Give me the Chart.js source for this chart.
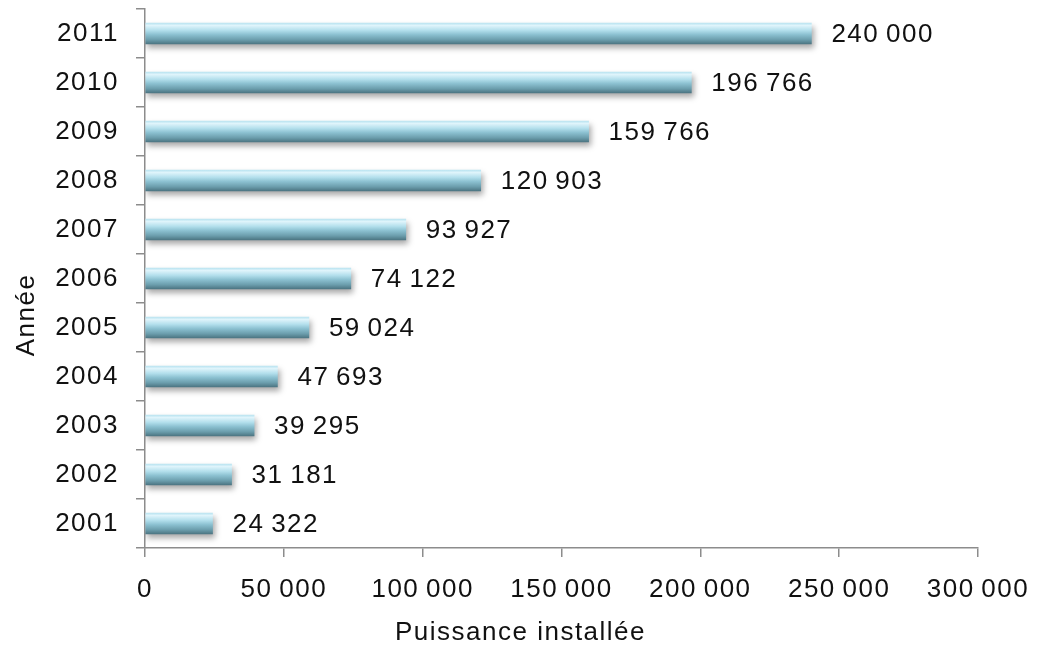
<!DOCTYPE html>
<html>
<head>
<meta charset="utf-8">
<script src="https://cdn.jsdelivr.net/npm/chart.js@4/dist/chart.umd.min.js"></script>
<style>
  html, body { margin: 0; padding: 0; background: #fff; }
  #wrap { width: 1037px; height: 650px; }
</style>
</head>
<body>
<div id="wrap"><canvas id="puissanceChart"></canvas></div>
<script>
// data
const annees = ['2001', '2002', '2003', '2004', '2005', '2006', '2007', '2008', '2009', '2010', '2011'];
const puissance = [24322, 31181, 39295, 47693, 59024, 74122, 93927, 120903, 159766, 196766, 240000];
const xTicks = [0, 50000, 100000, 150000, 200000, 250000, 300000];

const tickFont = { family: 'Liberation Sans', size: 26, weight: 'normal' };
const titleFont = { family: 'Liberation Sans', size: 26 };

function fmt(v) {
    // french style thousands, narrow gap
    return String(v).replace(/\B(?=(\d{3})+(?!\d))/g, '\u2009');
}

// the original text is drawn a bit wide; canvas resizes reset this, so set it often
const wideText = {
    id: 'wideText',
    afterInit(chart) { chart.ctx.letterSpacing = '1.5px'; },
    beforeUpdate(chart) { chart.ctx.letterSpacing = '1.5px'; },
    beforeDraw(chart) { chart.ctx.letterSpacing = '1.5px'; }
};

// soft shadow under the bars
const shadowPlugin = {
    id: 'barShadow',
    beforeDatasetDraw(chart) {
        const ctx = chart.ctx;
        ctx.save();
        ctx.shadowColor = 'rgba(0,0,0,0.35)';
        ctx.shadowBlur = 6;
        ctx.shadowOffsetX = 2;
        ctx.shadowOffsetY = 4;
    },
    afterDatasetDraw(chart) {
        chart.ctx.restore();
    }
};

// value next to the end of each bar, and both axis titles (centred on the page, not the plot)
const valueLabels = {
    id: 'valueLabels',
    afterDatasetsDraw(chart) {
        const ctx = chart.ctx;
        const meta = chart.getDatasetMeta(0);
        ctx.save();
        ctx.font = tickFont.size + 'px "' + tickFont.family + '"';
        ctx.letterSpacing = '1.5px';
        ctx.fillStyle = '#111';
        ctx.textAlign = 'left';
        ctx.textBaseline = 'middle';
        meta.data.forEach((bar, i) => {
            ctx.fillText(fmt(puissance[i]), bar.x + 20, bar.y + 1);
        });

        ctx.font = titleFont.size + 'px "' + titleFont.family + '"';
        ctx.textAlign = 'center';
        ctx.fillText('Puissance installée', chart.width / 2 + 2, 633);

        ctx.translate(27, chart.height / 2 - 10);
        ctx.rotate(-Math.PI / 2);
        ctx.fillText('Année', 0, 0);
        ctx.restore();
    }
};

function barGradient(context) {
    const chart = context.chart;
    const y = chart.scales.y;
    if (!y || context.dataIndex === undefined) return '#8fc6d6';
    const c = y.getPixelForValue(context.dataIndex);
    if (!isFinite(c)) return '#8fc6d6';
    const h = 21;
    const g = chart.ctx.createLinearGradient(0, c - h / 2, 0, c + h / 2);
    g.addColorStop(0, '#b9e3f0');
    g.addColorStop(0.12, '#dff4fb');
    g.addColorStop(0.35, '#b3dfec');
    g.addColorStop(0.55, '#8cc1d1');
    g.addColorStop(0.8, '#6b9dac');
    g.addColorStop(1, '#4c7582');
    return g;
}

const ctx = document.getElementById('puissanceChart').getContext('2d');
new Chart(ctx, {
    type: 'bar',
    data: {
        labels: annees,
        datasets: [{
            data: puissance,
            backgroundColor: barGradient,
            borderWidth: 0,
            barThickness: 21
        }]
    },
    options: {
        indexAxis: 'y',
        responsive: true,
        maintainAspectRatio: false,
        animation: false,
        layout: { padding: { top: 9, right: 0, left: 0, bottom: 0 } },
        plugins: {
            legend: { display: false },
            tooltip: { enabled: false }
        },
        scales: {
            x: {
                min: 0,
                max: 300000,
                afterBuildTicks(axis) {
                    axis.ticks = xTicks.map(v => ({ value: v }));
                },
                afterFit(axis) {
                    axis.height = 102;
                    axis.paddingLeft = 0;
                    axis.paddingRight = 59;
                },
                border: { color: '#8c8c8c', width: 1.5 },
                grid: { drawOnChartArea: false, drawTicks: true, tickLength: 9, color: '#8c8c8c', lineWidth: 1.5 },
                ticks: {
                    color: '#111',
                    font: tickFont,
                    padding: 17,
                    maxRotation: 0,
                    callback: v => fmt(v)
                },
                title: { display: false }
            },
            y: {
                reverse: true,
                afterFit(axis) {
                    axis.paddingTop = 0;
                    axis.paddingBottom = 0;
                    axis.width = 145;
                },
                border: { color: '#8c8c8c', width: 1.5 },
                grid: { drawOnChartArea: false, drawTicks: true, tickLength: 9, color: '#8c8c8c', lineWidth: 1.5, offset: true },
                ticks: {
                    color: '#111',
                    font: tickFont,
                    padding: 17
                },
                title: { display: false }
            }
        }
    },
    plugins: [wideText, shadowPlugin, valueLabels]
});
</script>
</body>
</html>
